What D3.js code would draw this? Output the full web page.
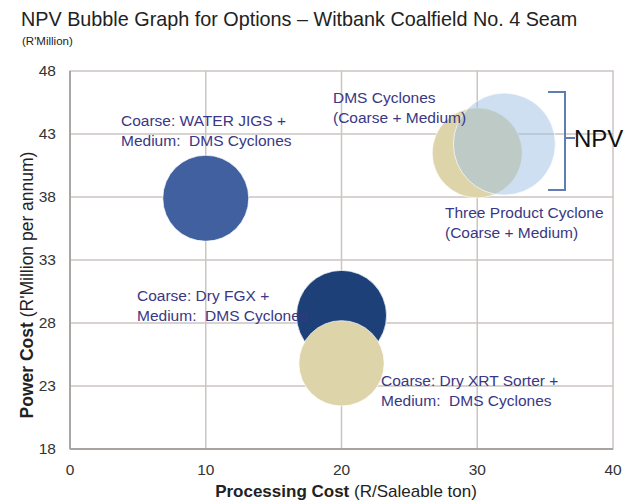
<!DOCTYPE html>
<html><head><meta charset="utf-8">
<script src="https://cdn.jsdelivr.net/npm/d3@7"></script>
<style>body{margin:0;background:#fff;font-family:"Liberation Sans",Arial,sans-serif;}</style>
</head><body><svg id="c" width="631" height="504"></svg>
<script>
const names = ["Coarse: WATER JIGS + | Medium:  DMS Cyclones","Coarse: Dry FGX + | Medium:  DMS Cyclones","Coarse: Dry XRT Sorter + | Medium:  DMS Cyclones","Three Product Cyclone | (Coarse + Medium)","DMS Cyclones | (Coarse + Medium)"];
const processingCost = [10, 20, 20, 30, 32];
const powerCost = [37.9, 28.6, 24.8, 41.5, 42.2];
const npv = [71, 78, 70, 78, 100];
const xTicks = [0, 10, 20, 30, 40];
const yTicks = [18, 23, 28, 33, 38, 43, 48];
const fills = ["#41609f", "#1d4079", "#ddd4a9", "#ddd4a9", "#9dbfe3"];
const opac = [1, 1, 1, 1, 0.5];
const labelPos = [[121,126],[137,301],[381,386],[445,218],[333,103]];

const svg = d3.select("#c");
const x = d3.scaleLinear().domain([0,40]).range([70,613]);
const y = d3.scaleLinear().domain([18,48]).range([449,71]);
const r = d3.scaleSqrt().domain([0,100]).range([0,51]);

svg.append("text").attr("x",21).attr("y",26).attr("font-size",19.8).attr("fill","#222")
  .text("NPV Bubble Graph for Options – Witbank Coalfield No. 4 Seam");
svg.append("text").attr("x",22).attr("y",45).attr("font-size",11.5).attr("fill","#222").text("(R'Million)");

const grid = "#cbc5c1";
svg.append("g").selectAll("line").data(xTicks.slice(1,-1)).join("line")
  .attr("x1",d=>x(d)).attr("x2",d=>x(d)).attr("y1",y(48)).attr("y2",y(18))
  .attr("stroke",grid).attr("stroke-width",1.5);
svg.append("g").selectAll("line").data(yTicks.slice(1,-1)).join("line")
  .attr("x1",x(0)).attr("x2",x(40)).attr("y1",d=>y(d)).attr("y2",d=>y(d))
  .attr("stroke",grid).attr("stroke-width",1.5);
svg.append("rect").attr("x",x(0)).attr("y",y(48)).attr("width",x(40)-x(0)).attr("height",y(18)-y(48))
  .attr("fill","none").attr("stroke",grid).attr("stroke-width",1.5);
svg.append("line").attr("x1",x(0)).attr("x2",x(40)).attr("y1",y(18)).attr("y2",y(18)).attr("stroke","#aaa4a0").attr("stroke-width",2);
svg.append("line").attr("x1",x(0)).attr("x2",x(0)).attr("y1",y(48)).attr("y2",y(18)).attr("stroke","#aaa6a4").attr("stroke-width",2);

svg.append("g").selectAll("text").data(xTicks).join("text")
  .attr("x",d=>x(d)).attr("y",475).attr("text-anchor","middle").attr("font-size",15.5).attr("fill","#333").text(d=>d);
svg.append("g").selectAll("text").data(yTicks).join("text")
  .attr("x",56).attr("y",d=>y(d)).attr("dy","0.35em").attr("text-anchor","end").attr("font-size",15.5).attr("fill","#333").text(d=>d);

const xt = svg.append("text").attr("x",346).attr("y",497).attr("text-anchor","middle").attr("font-size",17).attr("fill","#222");
xt.append("tspan").attr("font-weight","bold").text("Processing Cost");
xt.append("tspan").text(" (R/Saleable ton)");
const yt = svg.append("text").attr("transform","translate(33,285) rotate(-90)").attr("text-anchor","middle").attr("font-size",17.5).attr("fill","#222");
yt.append("tspan").attr("font-weight","bold").text("Power Cost");
yt.append("tspan").text(" (R'Million per annum)");

svg.append("g").selectAll("circle").data(d3.range(names.length)).join("circle")
  .attr("cx",i=>x(processingCost[i])).attr("cy",i=>y(powerCost[i])).attr("r",i=>r(npv[i]))
  .attr("fill",i=>fills[i]).attr("fill-opacity",i=>opac[i]).attr("stroke","#fff").attr("stroke-width",1).attr("stroke-opacity",0.7);

const lab = svg.append("g").selectAll("text").data(d3.range(names.length)).join("text")
  .attr("x",i=>labelPos[i][0]).attr("y",i=>labelPos[i][1]).attr("font-size",15.5).attr("fill","#3a3784")
  .style("white-space","pre");
lab.each(function(i){
  const parts = names[i].split(" | ");
  d3.select(this).selectAll("tspan").data(parts).join("tspan")
    .attr("x",labelPos[i][0]).attr("dy",(d,k)=>k===0?0:19.5).text(d=>d);
});

// NPV bracket
const b = d3.path();
b.moveTo(548, 92); b.lineTo(565, 92); b.lineTo(565, 190); b.lineTo(548, 190);
b.moveTo(565, 138); b.lineTo(575, 138);
svg.append("path").attr("d",b.toString()).attr("fill","none").attr("stroke","#5f7db3").attr("stroke-width",2);
svg.append("text").attr("x",574).attr("y",147).attr("font-size",24).attr("fill","#111").text("NPV");
</script></body></html>
